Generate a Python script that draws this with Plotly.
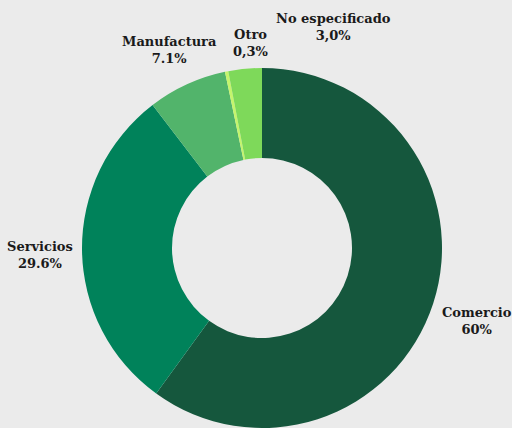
import math
import plotly.graph_objects as go

# ---- data ----
categories = ["Comercio", "Servicios", "Manufactura", "Otro", "No especificado"]
values = [60.0, 29.6, 7.1, 0.3, 3.0]
value_labels = ["60%", "29.6%", "7.1%", "0,3%", "3,0%"]
colors = ["#15573d", "#00825a", "#52b46b", "#c4f56c", "#7ed95a"]

W, H = 512, 428
BG = "#ebebeb"

# pie geometry in pixels
cx, cy, R = 262, 249, 181

fig = go.Figure(go.Pie(
    labels=categories,
    values=values,
    sort=False,
    direction="clockwise",
    rotation=0,
    hole=0.5,
    textinfo="none",
    hoverinfo="label+percent",
    marker=dict(colors=colors, line=dict(width=0)),
    domain=dict(x=[(cx - R) / W, (cx + R) / W],
                y=[max(0, (H - cy - R) / H), min(1, (H - cy + R) / H)]),
    showlegend=False,
))

# label placement: along mid-angle of each slice, with nudges for small slices
label_r = 222
total = sum(values)
cum = 0.0
annotations = []
for cat, v, lab in zip(categories, values, value_labels):
    mid = (cum + v / 2) / total * 2 * math.pi
    cum += v
    px = cx + label_r * math.sin(mid)
    py = cy - label_r * math.cos(mid) + 3
    if cat == "Comercio":
        px += 4
    if cat == "Otro":
        px, py = 251, 43
    elif cat == "No especificado":
        px, py = 333, 27
    annotations.append(dict(
        x=px / W, y=1 - py / H, xref="paper", yref="paper",
        text=f"<b>{cat}</b><br><b>{lab}</b>",
        showarrow=False, xanchor="center", yanchor="middle",
        font=dict(family="DejaVu Serif", size=13, color="#1a1a1a"),
        align="center",
    ))

fig.update_layout(
    width=W, height=H,
    margin=dict(l=0, r=0, t=0, b=0),
    paper_bgcolor=BG, plot_bgcolor=BG,
    annotations=annotations,
)

fig.write_html(
    "out.html",
    config={"displayModeBar": False},
    post_script="document.body.style.margin='0';document.body.style.overflow='hidden';document.body.style.background='#ebebeb';",
)
